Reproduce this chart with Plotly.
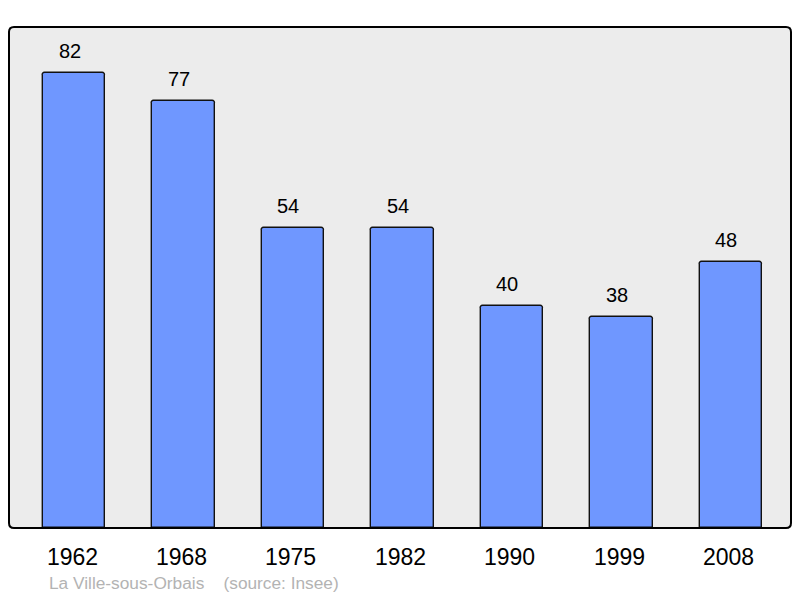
import plotly.graph_objects as go

years = ["1962", "1968", "1975", "1982", "1990", "1999", "2008"]
population = [82, 77, 54, 54, 40, 38, 48]

xs = list(range(len(years)))
FONT = "Liberation Sans, Arial, sans-serif"

fig = go.Figure()
fig.add_trace(go.Bar(
    x=xs, y=population, width=0.57,
    marker=dict(color="#6f97ff", line=dict(color="#111111", width=1.4), cornerradius=3),
    hoverinfo="skip",
))

for i, v in enumerate(population):
    fig.add_annotation(x=i, y=v, text=str(v), showarrow=False, yanchor="middle", yshift=22, xshift=-4.5,
                       font=dict(family=FONT, size=20, color="#000"))
for i, yr in enumerate(years):
    fig.add_annotation(x=i, y=0, yref="paper", text=yr, showarrow=False, yanchor="middle", yshift=-28.5,
                       xshift=-2, font=dict(family=FONT, size=23, color="#000"))

fig.add_annotation(x=0.0486, y=-0.11, xref="paper", yref="paper", xanchor="left", yanchor="middle",
                   text="La Ville-sous-Orbais&nbsp;&nbsp;&nbsp;&nbsp;(source: Insee)", showarrow=False,
                   font=dict(family=FONT, size=17.3, color="#b3b3b3"))

# rounded plot border
rx, ry = 5 / 782, 5 / 501
path = (f"M {rx},0 L {1-rx},0 Q 1,0 1,{ry} L 1,{1-ry} Q 1,1 {1-rx},1 "
        f"L {rx},1 Q 0,1 0,{1-ry} L 0,{ry} Q 0,0 {rx},0 Z")
fig.add_shape(type="path", xref="paper", yref="paper", path=path,
              line=dict(color="#000", width=2), layer="above")

fig.update_layout(
    width=800, height=598,
    margin=dict(l=9, r=9, t=27, b=70),
    paper_bgcolor="#ffffff", plot_bgcolor="#ececec",
    showlegend=False,
    xaxis=dict(range=[-0.594, 6.55], showticklabels=False, showgrid=False, zeroline=False, fixedrange=True),
    yaxis=dict(range=[0, 90.3], showticklabels=False, showgrid=False, zeroline=False, fixedrange=True),
    bargap=0,
)

fig.write_html("out.html", config={"displayModeBar": False},
               post_script="document.body.style.margin='0';")
